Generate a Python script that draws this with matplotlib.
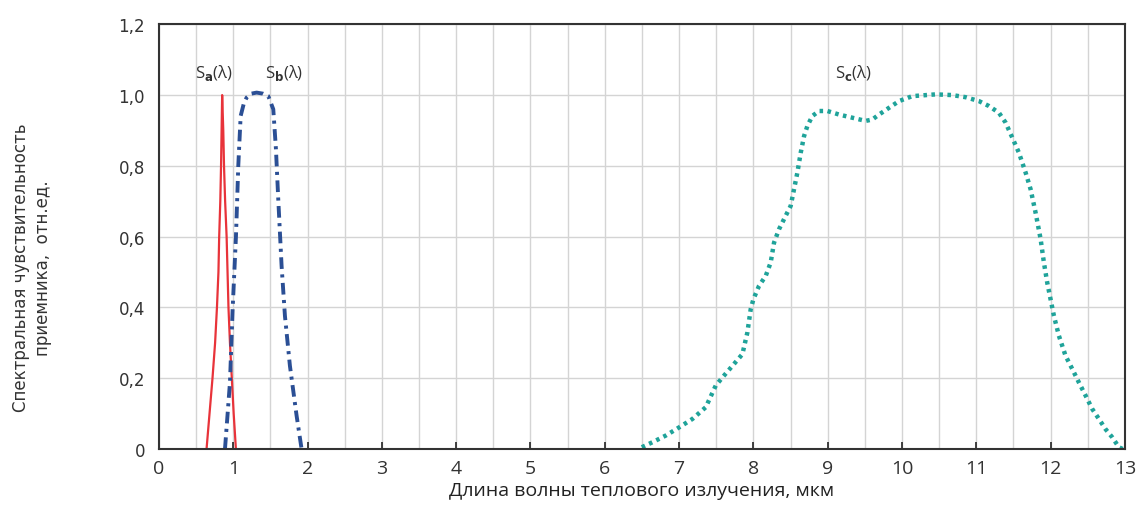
import matplotlib
matplotlib.use('Agg')
import matplotlib.pyplot as plt
from matplotlib.ticker import MultipleLocator, FixedLocator

# Sa(lambda) - red solid
sa_x = [0.64, 0.68, 0.72, 0.755, 0.78, 0.80, 0.81, 0.825, 0.835, 0.85, 0.865, 0.875, 0.89, 0.91, 0.935, 0.955, 0.98, 1.005, 1.035]
sa_y = [0.0, 0.1, 0.2, 0.3, 0.4, 0.5, 0.6, 0.7, 0.8, 1.0, 0.9, 0.8, 0.7, 0.6, 0.4, 0.3, 0.2, 0.1, 0.0]

# Sb(lambda) - blue dash-dot
sb_x = [0.888, 0.955, 0.991, 1.036, 1.067, 1.099, 1.14, 1.179, 1.24, 1.314, 1.40, 1.471, 1.538, 1.574, 1.605, 1.65, 1.695, 1.762, 1.852, 1.919]
sb_y = [0.0, 0.188, 0.395, 0.602, 0.80, 0.941, 0.975, 0.993, 1.004, 1.007, 1.004, 0.997, 0.96, 0.847, 0.706, 0.517, 0.376, 0.235, 0.094, 0.0]

# Sc(lambda) - teal dotted
sc_x = [6.498, 6.641, 6.821, 7.0, 7.180, 7.359, 7.493, 7.583, 7.718, 7.852, 7.919, 7.964, 8.0, 8.076,
        8.166, 8.233, 8.278, 8.345, 8.435, 8.502, 8.547, 8.592, 8.637, 8.682, 8.727, 8.794, 8.884,
        8.996, 9.153, 9.332, 9.511, 9.601, 9.691, 9.825, 9.960, 10.139, 10.453, 10.677, 10.857,
        11.036, 11.171, 11.305, 11.395, 11.484, 11.574, 11.664, 11.731, 11.798, 11.866, 11.910,
        11.955, 12.0, 12.045, 12.112, 12.202, 12.292, 12.381, 12.471, 12.561, 12.650, 12.740,
        12.830, 12.919, 12.97]
sc_y = [0.005, 0.019, 0.038, 0.061, 0.085, 0.118, 0.179, 0.202, 0.235, 0.268, 0.329, 0.395, 0.423,
        0.461, 0.489, 0.527, 0.583, 0.621, 0.659, 0.687, 0.734, 0.781, 0.837, 0.884, 0.913, 0.941,
        0.955, 0.955, 0.945, 0.936, 0.927, 0.931, 0.945, 0.964, 0.983, 0.997, 1.002, 1.0, 0.994,
        0.983, 0.969, 0.950, 0.922, 0.880, 0.837, 0.781, 0.734, 0.668, 0.593, 0.527, 0.470, 0.423,
        0.376, 0.320, 0.263, 0.226, 0.188, 0.151, 0.113, 0.085, 0.056, 0.033, 0.005, 0.0]

x_ticks = list(range(0, 14))
y_ticks = [0, 0.2, 0.4, 0.6, 0.8, 1.0, 1.2]
y_labels = ['0', '0,2', '0,4', '0,6', '0,8', '1,0', '1,2']

fam = ['Open Sans', 'DejaVu Sans']
narrow = ['Liberation Sans Narrow', 'Open Sans', 'DejaVu Sans']

fig = plt.figure(figsize=(11.39, 5.06), dpi=100)
ax = fig.add_axes([0.1396, 0.1107, 0.848, 0.8393])

ax.plot(sa_x, sa_y, color='#e8333a', lw=1.6)
ax.plot(sb_x, sb_y, color='#2b4f95', lw=2.8, dashes=(3, 1.4, 0.8, 1.4))
ax.plot(sc_x, sc_y, color='#1fa39a', lw=3.2, linestyle=(0, (0.8, 1.0)))

ax.set_xlim(0, 13)
ax.set_ylim(0, 1.2)
ax.xaxis.set_major_locator(FixedLocator(x_ticks))
ax.xaxis.set_minor_locator(MultipleLocator(0.5))
ax.set_yticks(y_ticks)
ax.set_yticklabels(y_labels)
ax.grid(which='both', axis='x', color='#d4d4d4', lw=1)
ax.grid(which='major', axis='y', color='#d4d4d4', lw=1)
ax.set_axisbelow(True)
ax.tick_params(axis='x', which='major', direction='in', length=5, width=1.2, colors='#222222',
               labelcolor='#333333', labelsize=14, pad=7)
ax.tick_params(axis='x', which='minor', length=0)
ax.tick_params(axis='y', direction='in', length=0, labelcolor='#333333', labelsize=12, pad=10)
for lbl in ax.get_xticklabels():
    lbl.set_family(narrow)
for lbl in ax.get_yticklabels():
    lbl.set_family(['DejaVu Sans'])
for s in ax.spines.values():
    s.set_color('#333333')
    s.set_linewidth(1.5)

ax.set_xlabel('Длина волны теплового излучения, мкм', fontsize=14, family=narrow, color='#222222', labelpad=3)
fig.text(0.028, 0.47, 'Спектральная чувствительность\nприемника,  отн.ед.', rotation=90,
         ha='center', va='center', fontsize=12, family=['DejaVu Sans'], color='#333333',
         linespacing=1.3)

ax.text(0.74, 1.066, r'S$_\mathbf{a}$(λ)', ha='center', va='center', fontsize=12, family=fam, color='#333333')
ax.text(1.68, 1.066, r'S$_\mathbf{b}$(λ)', ha='center', va='center', fontsize=12, family=fam, color='#333333')
ax.text(9.35, 1.066, r'S$_\mathbf{c}$(λ)', ha='center', va='center', fontsize=12, family=fam, color='#333333')

fig.savefig('out.png', dpi=100)
